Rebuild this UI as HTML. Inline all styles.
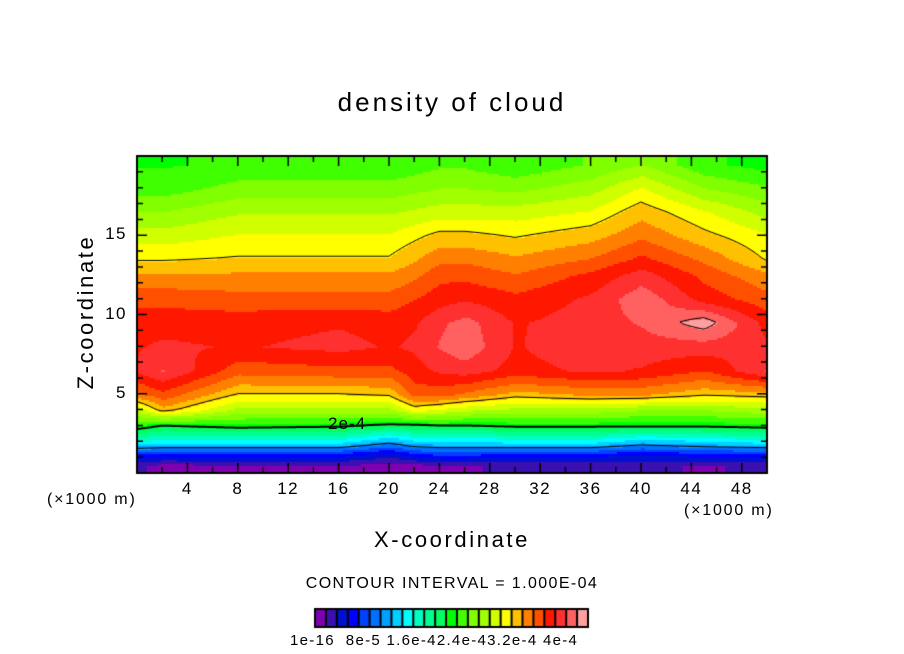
<!DOCTYPE html>
<html><head><meta charset="utf-8">
<style>
html,body{margin:0;padding:0;background:#fff;}
#wrap{position:relative;width:904px;height:654px;overflow:hidden;font-family:"Liberation Sans",sans-serif;color:#000;}
.t{position:absolute;white-space:nowrap;}
canvas{position:absolute;left:0;top:0;}
</style></head>
<body>
<div id="wrap">
<canvas id="cv" width="904" height="654"></canvas>
<div class="t" style="left:0;width:904px;text-align:center;top:87px;font-size:26px;letter-spacing:3px;">density of cloud</div>
<div class="t" style="left:0;width:904px;text-align:center;top:527px;font-size:22px;letter-spacing:2.6px;">X-coordinate</div>
<div class="t" style="left:-15px;top:300px;width:200px;text-align:center;font-size:22px;letter-spacing:2.6px;transform:rotate(-90deg);transform-origin:100px 12px;">Z-coordinate</div>
<div class="t" style="left:47px;top:491px;font-size:16px;letter-spacing:1.8px;">(×1000 m)</div>
<div class="t" style="left:684px;top:502px;font-size:16px;letter-spacing:1.8px;">(×1000 m)</div>
<div class="t" style="left:0;width:904px;text-align:center;top:575px;font-size:16px;letter-spacing:1.4px;">CONTOUR INTERVAL = 1.000E-04</div>
<div class="t" style="left:290px;top:632px;font-size:15px;letter-spacing:1.3px;">1e-16&nbsp; 8e-5 1.6e-42.4e-43.2e-4 4e-4</div>
<div class="t" style="left:328px;top:414px;font-size:17px;letter-spacing:1px;">2e-4</div>
<div id="ticks"></div>
</div>
<script>
// data (values in units of 1e-4)
const xCols = [0,2,8,16,20,22,24,26,30,36,40,45,50];
const zRows = [0.5,1.2,2,3,4,5,6.5,8,9.5,11,12.5,13.5,15,16.5,18,19.5];
const col0  = [0.2,0.6,1.5,2.15,2.7,3.3,3.7,3.65,3.6,3.45,3.2,2.98,2.75,2.5,2.25,2.15];
const col2  = [0.1,0.6,1.4,2.0,3.1,3.45,3.85,3.7,3.6,3.45,3.2,2.98,2.75,2.5,2.25,2.15];
const col8  = [0.15,0.6,1.4,2.1,2.6,3.0,3.4,3.65,3.6,3.4,3.2,3.02,2.85,2.65,2.4,2.2];
const col16 = [0.15,0.6,1.4,2.05,2.6,3.0,3.45,3.72,3.65,3.4,3.2,3.02,2.85,2.65,2.4,2.2];
const col20 = [0.1,0.4,1.1,1.95,2.6,3.05,3.45,3.65,3.6,3.4,3.2,3.02,2.85,2.65,2.4,2.2];
const col22 = [0.1,0.6,1.3,1.95,2.9,3.4,3.6,3.7,3.65,3.5,3.3,3.15,2.95,2.7,2.45,2.25];
const col24 = [0.15,0.7,1.3,2.0,2.8,3.4,3.7,3.85,3.8,3.6,3.45,3.3,3.05,2.75,2.5,2.3];
const col26 = [0.15,0.7,1.3,2.0,2.7,3.3,3.75,3.95,3.9,3.65,3.45,3.3,3.05,2.75,2.5,2.3];
const col30 = [0.2,0.6,1.4,2.05,2.6,3.1,3.6,3.65,3.65,3.55,3.35,3.2,2.98,2.75,2.45,2.2];
const col36 = [0.2,0.6,1.4,2.05,2.6,3.2,3.7,3.8,3.75,3.7,3.55,3.35,3.1,2.85,2.6,2.35];
const col40 = [0.2,0.5,1.2,2.05,2.5,3.2,3.65,3.75,3.85,3.95,3.75,3.55,3.3,3.1,2.85,2.5];
const col45 = [0.15,0.6,1.3,2.05,2.5,3.05,3.5,3.75,4.1,3.6,3.45,3.3,3.05,2.85,2.5,2.2];
const col50 = [0.2,0.6,1.4,2.1,2.6,3.1,3.85,3.7,3.6,3.4,3.2,2.98,2.85,2.6,2.35,2.1];
const grid = [col0,col2,col8,col16,col20,col22,col24,col26,col30,col36,col40,col45,col50];
const contourLevels = [1,2,3,4];
const xTickLabels = [4,8,12,16,20,24,28,32,36,40,44,48];
const zTickLabels = [5,10,15];
const palette = ["#7f00b0","#3a10b0","#0010d0","#0000ff","#0040ff","#0070ff","#00a0ff","#00d0ff","#00ffff","#00ffc0","#00ff90","#00ff60","#00ff00","#40ff00","#80ff00","#a0ff00","#d0ff00","#ffff00","#ffc000","#ff8000","#ff5000","#ff1800","#ff3030","#ff6060","#ffa0a0"];

const PX0=137,PX1=767,PY0=156,PY1=473,XMAX=50,ZMAX=20;
const sx=x=>PX0+(x/XMAX)*(PX1-PX0);
const sz=z=>PY1-(z/ZMAX)*(PY1-PY0);
function seg(arr,v){let i=0;while(i<arr.length-2&&v>arr[i+1])i++;let t=(v-arr[i])/(arr[i+1]-arr[i]);t=Math.max(0,Math.min(1,t));return [i,t];}
function field(x,z){
  const [i,tx]=seg(xCols,x);const [j,tz]=seg(zRows,z);
  const a=grid[i][j],b=grid[i][j+1],c=grid[i+1][j],d=grid[i+1][j+1];
  return (a*(1-tz)+b*tz)*(1-tx)+(c*(1-tz)+d*tz)*tx;
}
function colorOf(v){ if(v<0.05) return null; let k=Math.floor(v*6); return palette[Math.max(0,Math.min(24,k))]; }

const cv=document.getElementById('cv'),ctx=cv.getContext('2d');
const CS=2,NX=Math.ceil((PX1-PX0)/CS),NZ=Math.ceil((PY1-PY0)/CS);
const V=[];
for(let i=0;i<=NX;i++){V.push([]);for(let j=0;j<=NZ;j++){const px=PX0+i*CS,py=PY0+j*CS;
  const x=(px-PX0)/(PX1-PX0)*XMAX,z=(PY1-py)/(PY1-PY0)*ZMAX;V[i].push(field(x,z));}}
for(let i=0;i<NX;i++)for(let j=0;j<NZ;j++){
  const v=V[i][j];const c=colorOf(v);if(!c)continue;ctx.fillStyle=c;
  ctx.fillRect(PX0+i*CS,PY0+j*CS,Math.min(CS,PX1-PX0-i*CS),Math.min(CS,PY1-PY0-j*CS));
}
ctx.strokeStyle='#000';
contourLevels.forEach(L=>{
  ctx.lineWidth=(L===2)?2:1;ctx.beginPath();
  for(let i=0;i<NX;i++)for(let j=0;j<NZ;j++){
    const p=[[i,j],[i+1,j],[i+1,j+1],[i,j+1]];const pts=[];
    for(let e=0;e<4;e++){const A=p[e],B=p[(e+1)%4];const va=V[A[0]][A[1]],vb=V[B[0]][B[1]];
      if((va<L)!==(vb<L)){const t=(L-va)/(vb-va);pts.push([PX0+(A[0]+(B[0]-A[0])*t)*CS,PY0+(A[1]+(B[1]-A[1])*t)*CS]);}}
    if(pts.length>=2){ctx.moveTo(pts[0][0],pts[0][1]);ctx.lineTo(pts[1][0],pts[1][1]);}
    if(pts.length===4){ctx.moveTo(pts[2][0],pts[2][1]);ctx.lineTo(pts[3][0],pts[3][1]);}
  }
  ctx.stroke();
});
ctx.lineWidth=2;ctx.strokeRect(PX0,PY0,PX1-PX0,PY1-PY0);
ctx.lineWidth=1.5;ctx.beginPath();
for(let x=2;x<XMAX;x+=2){const L=(x%4===0)?10:6;ctx.moveTo(sx(x),PY1);ctx.lineTo(sx(x),PY1-L);ctx.moveTo(sx(x),PY0);ctx.lineTo(sx(x),PY0+L);}
for(let z=1;z<ZMAX;z++){const L=(z%5===0)?10:6;ctx.moveTo(PX0,sz(z));ctx.lineTo(PX0+L,sz(z));ctx.moveTo(PX1,sz(z));ctx.lineTo(PX1-L,sz(z));}
ctx.stroke();
const CB0=315,CB1=588,CBY=609,CBH=18,bw=(CB1-CB0)/palette.length;
palette.forEach((c,k)=>{ctx.fillStyle=c;ctx.fillRect(CB0+k*bw,CBY,bw,CBH);});
ctx.lineWidth=2;ctx.strokeStyle='#000';ctx.beginPath();
for(let k=0;k<=palette.length;k++){ctx.moveTo(CB0+k*bw,CBY);ctx.lineTo(CB0+k*bw,CBY+CBH);}
ctx.stroke();ctx.strokeRect(CB0,CBY,CB1-CB0,CBH);
const tk=document.getElementById('ticks');
xTickLabels.forEach(v=>{const d=document.createElement('div');d.className='t';
  
  
  d.style.cssText='left:'+(sx(v)-20)+'px;width:40px;text-align:center;top:479px;font-size:17px;letter-spacing:1.5px;';d.textContent=v;tk.appendChild(d);});
zTickLabels.forEach(v=>{const d=document.createElement('div');d.className='t';
  
  
  d.style.cssText='left:'+(PX0-50)+'px;width:40px;text-align:right;top:'+(sz(v)-11)+'px;font-size:17px;letter-spacing:1.5px;';d.textContent=v;tk.appendChild(d);});
</script>
</body></html>
